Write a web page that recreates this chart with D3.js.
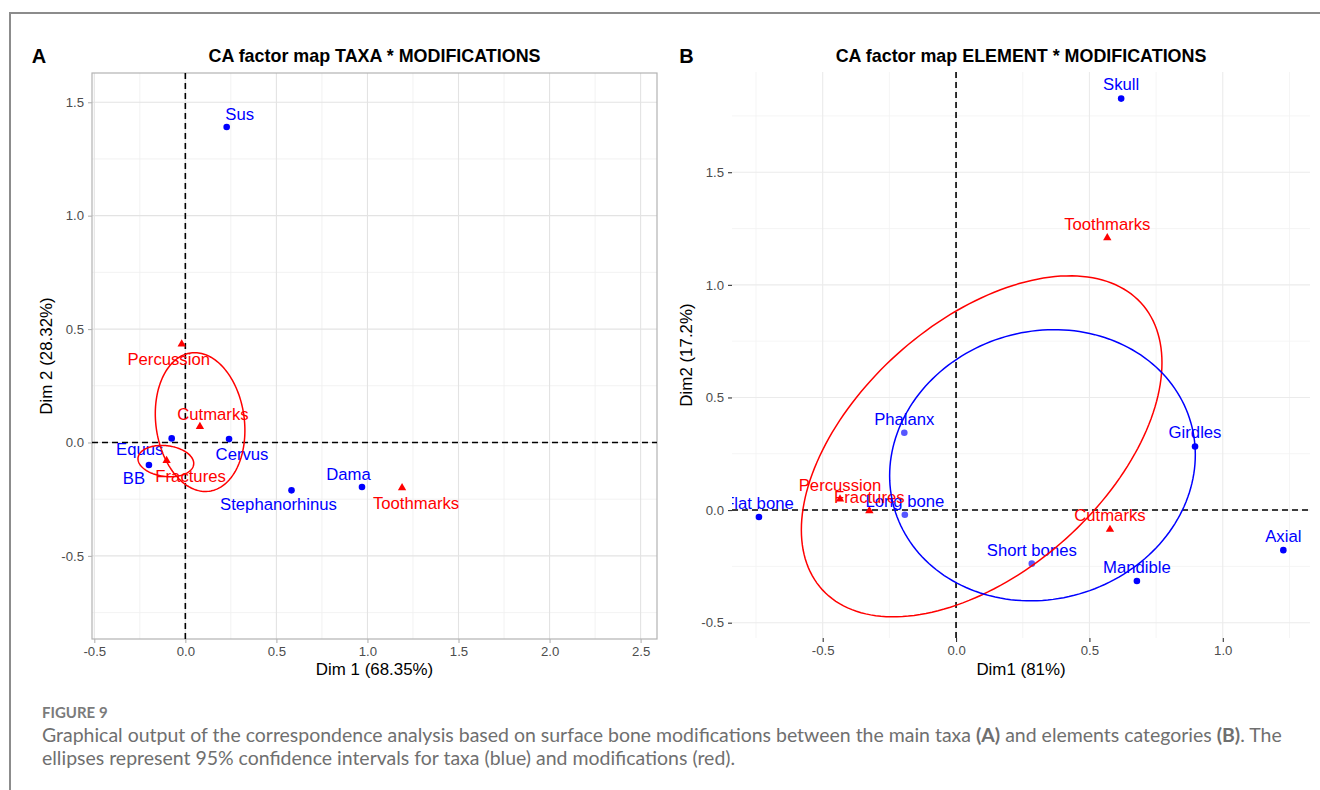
<!DOCTYPE html>
<html>
<head>
<meta charset="utf-8">
<script src="https://cdn.jsdelivr.net/npm/d3@7"></script>
<style>
  html, body { margin: 0; padding: 0; background: #ffffff; }
  svg { display: block; }
</style>
</head>
<body>
<svg id="chart" width="1320" height="790"></svg>
<script>
// ---------------- DATA ----------------
// Panel A: taxa (rows, blue) and modifications (columns, red)
const taxaNames = ["Sus", "Equus", "BB", "Cervus", "Stephanorhinus", "Dama"];
const taxaDim1  = [0.227, -0.075, -0.200, 0.240, 0.583, 0.970];
const taxaDim2  = [1.391, 0.018, -0.099, 0.015, -0.211, -0.196];

const modsANames = ["Percussion", "Cutmarks", "Fractures", "Toothmarks"];
const modsADim1  = [-0.020, 0.080, -0.103, 1.190];
const modsADim2  = [0.434, 0.070, -0.080, -0.200];

// Panel B: elements (rows, blue) and modifications (columns, red)
const elemNames = ["Skull", "Phalanx", "Long bone", "Flat bone", "Girdles", "Axial", "Short bones", "Mandible"];
const elemDim1  = [0.619, -0.194, -0.192, -0.739, 0.896, 1.227, 0.284, 0.678];
const elemDim2  = [1.827, 0.343, -0.021, -0.031, 0.282, -0.178, -0.238, -0.315];

const modsBNames = ["Toothmarks", "Percussion", "Fractures", "Cutmarks"];
const modsBDim1  = [0.567, -0.435, -0.325, 0.577];
const modsBDim2  = [1.209, 0.049, -0.003, -0.086];

// Confidence ellipses (centre, half-extent on each axis, correlation)
const ellipsesA = [
  { group: "modifications", cx: 0.081, cy: 0.090, sx: 0.246, sy: 0.306, rho: -0.12 },
  { group: "modifications", cx: -0.107, cy: -0.082, sx: 0.153, sy: 0.069, rho: -0.15 }
];
const ellipsesB = [
  { group: "modifications", cx: 0.096, cy: 0.283, sx: 0.676, sy: 0.757, rho: 0.49 },
  { group: "taxa", cx: 0.324, cy: 0.199, sx: 0.573, sy: 0.602, rho: 0.077 }
];

// Tick labels
const ticksAx = [-0.5, 0, 0.5, 1, 1.5, 2, 2.5];
const ticksAy = [-0.5, 0, 0.5, 1, 1.5];
const minorAx = [-0.25, 0.25, 0.75, 1.25, 1.75, 2.25];
const minorAy = [-0.75, -0.25, 0.25, 0.75, 1.25];
const ticksBx = [-0.5, 0, 0.5, 1];
const ticksBy = [-0.5, 0, 0.5, 1, 1.5];
const minorBx = [-0.75, -0.25, 0.25, 0.75, 1.25];
const minorBy = [-0.25, 0.25, 0.75, 1.25, 1.75];

const domainAx = [-0.5126, 2.590];
const domainAy = [-0.8664, 1.629];
const domainBx = [-0.840, 1.327];
const domainBy = [-0.568, 1.945];

// ---------------- LAYOUT / STYLE ----------------
// repelled label offsets (px) for panel A
const labelNudgeA = {
  "Sus": [13, -13], "Equus": [-32, 11], "BB": [-15, 13], "Cervus": [13, 15],
  "Stephanorhinus": [-13, 14], "Dama": [-13.5, -13],
  "Percussion": [-13, 15], "Cutmarks": [13, -12], "Fractures": [24, 16], "Toothmarks": [14, 15]
};
const lightPointsB = new Set(["Phalanx", "Long bone", "Short bones"]);
const BLUE = "#0000ff", RED = "#ff0000", LIGHTBLUE = "#5656ff";
const FONT = "'Liberation Sans', Arial, Helvetica, sans-serif";

const svg = d3.select("#chart");
svg.append("rect").attr("width", 1320).attr("height", 790).attr("fill", "#fff");

// page frame
svg.append("path").attr("d", "M10,790 L10,13 L1320,13")
  .attr("fill", "none").attr("stroke", "#8c8c8c").attr("stroke-width", 2);

const fmt = v => d3.format(".1f")(v).replace("−", "-");

function ellipsePath(e, x, y) {
  const pts = d3.range(0, 361, 2).map(deg => {
    const t = deg * Math.PI / 180;
    const dx = e.sx * Math.cos(t);
    const dy = e.sy * (e.rho * Math.cos(t) + Math.sqrt(1 - e.rho * e.rho) * Math.sin(t));
    return [x(e.cx + dx), y(e.cy + dy)];
  });
  return d3.line()(pts) + "Z";
}

function panel(opts) {
  const g = svg.append("g");
  const x = d3.scaleLinear().domain(opts.domX).range([opts.left, opts.right]);
  const y = d3.scaleLinear().domain(opts.domY).range([opts.bottom, opts.top]);
  const clipId = "clip" + opts.id;
  svg.append("clipPath").attr("id", clipId).append("rect")
    .attr("x", opts.left).attr("y", opts.top)
    .attr("width", opts.right - opts.left).attr("height", opts.bottom - opts.top);

  // grid
  const grid = g.append("g");
  grid.selectAll(".mnx").data(opts.minorX).join("line")
    .attr("x1", d => x(d)).attr("x2", d => x(d)).attr("y1", opts.top).attr("y2", opts.bottom)
    .attr("stroke", opts.minorColor).attr("stroke-width", 0.8);
  grid.selectAll(".mny").data(opts.minorY).join("line")
    .attr("y1", d => y(d)).attr("y2", d => y(d)).attr("x1", opts.left).attr("x2", opts.right)
    .attr("stroke", opts.minorColor).attr("stroke-width", 0.8);
  grid.selectAll(".mjx").data(opts.ticksX).join("line")
    .attr("x1", d => x(d)).attr("x2", d => x(d)).attr("y1", opts.top).attr("y2", opts.bottom)
    .attr("stroke", opts.majorColor).attr("stroke-width", 1.1);
  grid.selectAll(".mjy").data(opts.ticksY).join("line")
    .attr("y1", d => y(d)).attr("y2", d => y(d)).attr("x1", opts.left).attr("x2", opts.right)
    .attr("stroke", opts.majorColor).attr("stroke-width", 1.1);

  if (opts.border) {
    g.append("rect").attr("x", opts.left).attr("y", opts.top)
      .attr("width", opts.right - opts.left).attr("height", opts.bottom - opts.top)
      .attr("fill", "none").attr("stroke", "#b3b3b3").attr("stroke-width", 1.2);
  }

  // axes (d3 axis generators)
  const xAxis = d3.axisBottom(x).tickValues(opts.ticksX).tickFormat(fmt).tickSize(4).tickPadding(4);
  const yAxis = d3.axisLeft(y).tickValues(opts.ticksY).tickFormat(fmt).tickSize(4).tickPadding(4);
  const gx = g.append("g").attr("transform", `translate(0,${opts.bottom})`).call(xAxis);
  const gy = g.append("g").attr("transform", `translate(${opts.left},0)`).call(yAxis);
  [gx, gy].forEach(a => {
    a.select(".domain").remove();
    a.selectAll(".tick line").attr("stroke", opts.tickColor).attr("stroke-width", 1.1);
    a.selectAll(".tick text").attr("fill", "#4d4d4d").style("font-family", FONT).style("font-size", "13.2px");
  });
  gx.selectAll(".tick text").attr("dy", "0.71em");

  // zero reference lines
  g.append("line").attr("x1", x(0)).attr("x2", x(0)).attr("y1", opts.top).attr("y2", opts.bottom)
    .attr("stroke", "#000").attr("stroke-width", 1.6).attr("stroke-dasharray", "6,4");
  g.append("line").attr("y1", y(0)).attr("y2", y(0)).attr("x1", opts.left).attr("x2", opts.right)
    .attr("stroke", "#000").attr("stroke-width", 1.6).attr("stroke-dasharray", "6,4");

  const plot = g.append("g").attr("clip-path", `url(#${clipId})`);

  // row points (circles)
  const rows = opts.rowNames.map((n, i) => ({ name: n, d1: opts.rowD1[i], d2: opts.rowD2[i] }));
  const cols = opts.colNames.map((n, i) => ({ name: n, d1: opts.colD1[i], d2: opts.colD2[i] }));

  plot.selectAll(".rowpt").data(rows).join("circle")
    .attr("cx", d => x(d.d1)).attr("cy", d => y(d.d2)).attr("r", 3.3)
    .attr("fill", d => opts.rowColor(d));
  plot.selectAll(".colpt").data(cols).join("path")
    .attr("d", d3.symbol(d3.symbolTriangle, 30))
    .attr("transform", d => `translate(${x(d.d1)},${y(d.d2)})`)
    .attr("fill", RED);

  // labels
  const lab = (sel, color) => sel
    .attr("text-anchor", "middle").attr("dy", "0.35em")
    .style("font-family", FONT).style("font-size", "16.7px").attr("fill", color);
  lab(plot.selectAll(".rowlab").data(rows).join("text")
    .attr("x", d => x(d.d1) + opts.nudge(d)[0]).attr("y", d => y(d.d2) + opts.nudge(d)[1])
    .text(d => d.name), BLUE);
  lab(plot.selectAll(".collab").data(cols).join("text")
    .attr("x", d => x(d.d1) + opts.nudge(d)[0]).attr("y", d => y(d.d2) + opts.nudge(d)[1])
    .text(d => d.name), RED);

  // ellipses
  plot.selectAll(".ell").data(opts.ellipses).join("path")
    .attr("d", e => ellipsePath(e, x, y))
    .attr("fill", "none")
    .attr("stroke", e => e.group === "taxa" ? BLUE : RED)
    .attr("stroke-width", 1.5);

  // titles
  svg.append("text").attr("x", opts.letterX).attr("y", 62.5).text(opts.letter)
    .attr("text-anchor", "middle").style("font-family", FONT).style("font-weight", "bold").style("font-size", "20px");
  svg.append("text").attr("x", (opts.left + opts.right) / 2).attr("y", 61.5).text(opts.title)
    .attr("text-anchor", "middle").style("font-family", FONT).style("font-weight", "bold").style("font-size", "17.9px");
  svg.append("text").attr("x", (opts.left + opts.right) / 2).attr("y", 675).text(opts.xTitle)
    .attr("text-anchor", "middle").style("font-family", FONT).style("font-size", "16.9px");
  svg.append("text").attr("transform", `translate(${opts.yTitleX},${(opts.top + opts.bottom) / 2}) rotate(-90)`)
    .text(opts.yTitle).attr("text-anchor", "middle").style("font-family", FONT).style("font-size", "16.9px");
}

panel({
  id: "A", left: 92, right: 657, top: 73, bottom: 639,
  domX: domainAx, domY: domainAy,
  ticksX: ticksAx, ticksY: ticksAy, minorX: minorAx, minorY: minorAy,
  majorColor: "#e3e3e3", minorColor: "#efefef", tickColor: "#b3b3b3", border: true,
  rowNames: taxaNames, rowD1: taxaDim1, rowD2: taxaDim2,
  colNames: modsANames, colD1: modsADim1, colD2: modsADim2,
  rowColor: () => BLUE,
  nudge: d => labelNudgeA[d.name] || [0, -14],
  ellipses: ellipsesA,
  letter: "A", letterX: 39, title: "CA factor map TAXA * MODIFICATIONS",
  xTitle: "Dim 1 (68.35%)", yTitle: "Dim 2 (28.32%)", yTitleX: 52
});

panel({
  id: "B", left: 732, right: 1310, top: 72, bottom: 638,
  domX: domainBx, domY: domainBy,
  ticksX: ticksBx, ticksY: ticksBy, minorX: minorBx, minorY: minorBy,
  majorColor: "#ebebeb", minorColor: "#f3f3f3", tickColor: "#333333", border: false,
  rowNames: elemNames, rowD1: elemDim1, rowD2: elemDim2,
  colNames: modsBNames, colD1: modsBDim1, colD2: modsBDim2,
  rowColor: d => lightPointsB.has(d.name) ? LIGHTBLUE : BLUE,
  nudge: () => [0, -14],
  ellipses: ellipsesB,
  letter: "B", letterX: 686.5, title: "CA factor map ELEMENT * MODIFICATIONS",
  xTitle: "Dim1 (81%)", yTitle: "Dim2 (17.2%)", yTitleX: 692
});

// ---------------- CAPTION ----------------
const CAPFONT = "Lato, 'Open Sans', 'Noto Sans', sans-serif";
svg.append("text").attr("x", 42).attr("y", 717.5).text("FIGURE 9")
  .style("font-family", CAPFONT).style("font-weight", "bold").style("font-size", "15px")
  .attr("fill", "#7b7b7b");

const capLines = [
  [["Graphical output of the correspondence analysis based on surface bone modifications between the main taxa ", false],
   ["(A)", true], [" and elements categories ", false], ["(B)", true], [". The", false]],
  [["ellipses represent 95% confidence intervals for taxa (blue) and modifications (red).", false]]
];
const capBase = [741.5, 765];
const capNodes = capLines.map((parts, i) => {
  const t = svg.append("text").attr("x", 42).attr("y", capBase[i])
    .style("font-family", CAPFONT).style("font-size", "18px").attr("fill", "#6f6f6f");
  parts.forEach(([s, b]) => t.append("tspan").text(s).style("font-weight", b ? "bold" : "normal"));
  return t;
});
const len0 = capNodes[0].node().getComputedTextLength();
const capSize = 18 * 1241 / len0;
capNodes.forEach(t => t.style("font-size", capSize + "px"));
</script>
</body>
</html>
